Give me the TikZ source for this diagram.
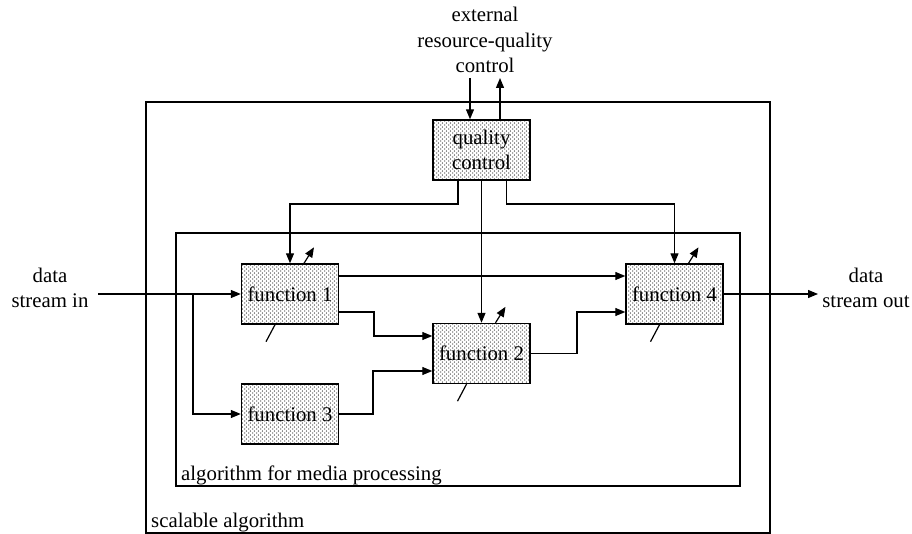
\documentclass[tikz,border=0pt]{standalone}
\usepackage{fontspec}
\setmainfont{Liberation Serif}
\usetikzlibrary{arrows.meta,patterns}
\newcommand{\lblfont}{\fontsize{20.8pt}{25.5pt}\selectfont}
% staggered dot screen used to shade the blocks
\pgfdeclarepatternformonly{blockdots}{\pgfpointorigin}{\pgfpoint{4pt}{4.4pt}}{\pgfpoint{4pt}{4.4pt}}{%
  \pgfpathcircle{\pgfpoint{1pt}{1.1pt}}{0.75pt}%
  \pgfpathcircle{\pgfpoint{3pt}{3.3pt}}{0.75pt}%
  \pgfusepath{fill}}
\begin{document}
\begin{tikzpicture}[x=1pt,y=-1pt,
  fbox/.style={draw, line width=1.4pt, pattern=blockdots, pattern color=black!80,
    minimum width=97pt, minimum height=60pt, inner sep=0pt, align=center, font=\lblfont},
  wire/.style={line width=1.2pt},
  conn/.style={line width=1.2pt, -{Triangle[length=10pt,width=8pt]}},
  frame/.style={draw, line width=1.2pt},
  lbl/.style={align=center, font=\lblfont, inner sep=0pt}]
\useasboundingbox (0,0) rectangle (912,534);

% enclosing frames
\draw[frame] (146,102) rectangle (770,533);
\draw[frame] (176,233) rectangle (740,486);
\node[lbl, anchor=base west] (scal) at (151,527) {scalable algorithm};
\node[lbl, anchor=base west] (media) at (181,480) {algorithm for media processing};

% processing blocks
\node[fbox] (qc) at (481.5,150) {quality\\control};
\node[fbox] (f1) at (290,294) {function 1};
\node[fbox] (f2) at (481.5,353.5) {function 2};
\node[fbox] (f3) at (290,414) {function 3};
\node[fbox] (f4) at (674.5,294) {function 4};

% external labels (base = baseline of the last line)
\node[lbl, anchor=base] (ext) at (485,73) {external\\resource-quality\\control};
\node[lbl, anchor=base] (din) at (50,308) {data\\stream in};
\node[lbl, anchor=base] (dout) at (866,308) {data\\stream out};

\coordinate (extin) at (470,78);
\coordinate (extout) at (500,78);
\coordinate (srcin) at (98,294);
\coordinate (split) at (193,294);
\coordinate (sinkout) at (818,294);
\coordinate (busL) at (290,204);
\coordinate (busR) at (674.5,204);

% external quality control
\draw[conn] (extin) -- ([xshift=-11.5pt]qc.north);
\draw[conn] ([xshift=18.5pt]qc.north) -- (extout);

% quality control to the functions
\draw[conn] ([xshift=-23.5pt]qc.south) |- (busL) -- (f1.north);
\draw[conn] (qc.south) -- (f2.north);
\draw[conn] ([xshift=25pt]qc.south) |- (busR) -- (f4.north);

% data path
\draw[conn] (srcin) -- (f1.west);
\draw[conn] (split) |- (f3.west);
\draw[conn] ([yshift=18pt]f1.east) -- ([yshift=18pt]f4.west);
\draw[conn] ([yshift=-18pt]f1.east) -| (374,336) -- ([yshift=17.5pt]f2.west);
\draw[conn] (f3.east) -| (373,371) -- ([yshift=-17.5pt]f2.west);
\draw[conn] (f2.east) -| (577,312) -- ([yshift=-18pt]f4.west);
\draw[conn] (f4.east) -- (sinkout);

% status outputs and parameter inputs
\foreach \b in {f1,f2,f4}{
  \draw[conn] ([xshift=14pt]\b.north) -- ++(10,-16);
  \draw[wire] ([xshift=-15pt]\b.south) -- ++(-9,17);
}
\end{tikzpicture}
\end{document}
